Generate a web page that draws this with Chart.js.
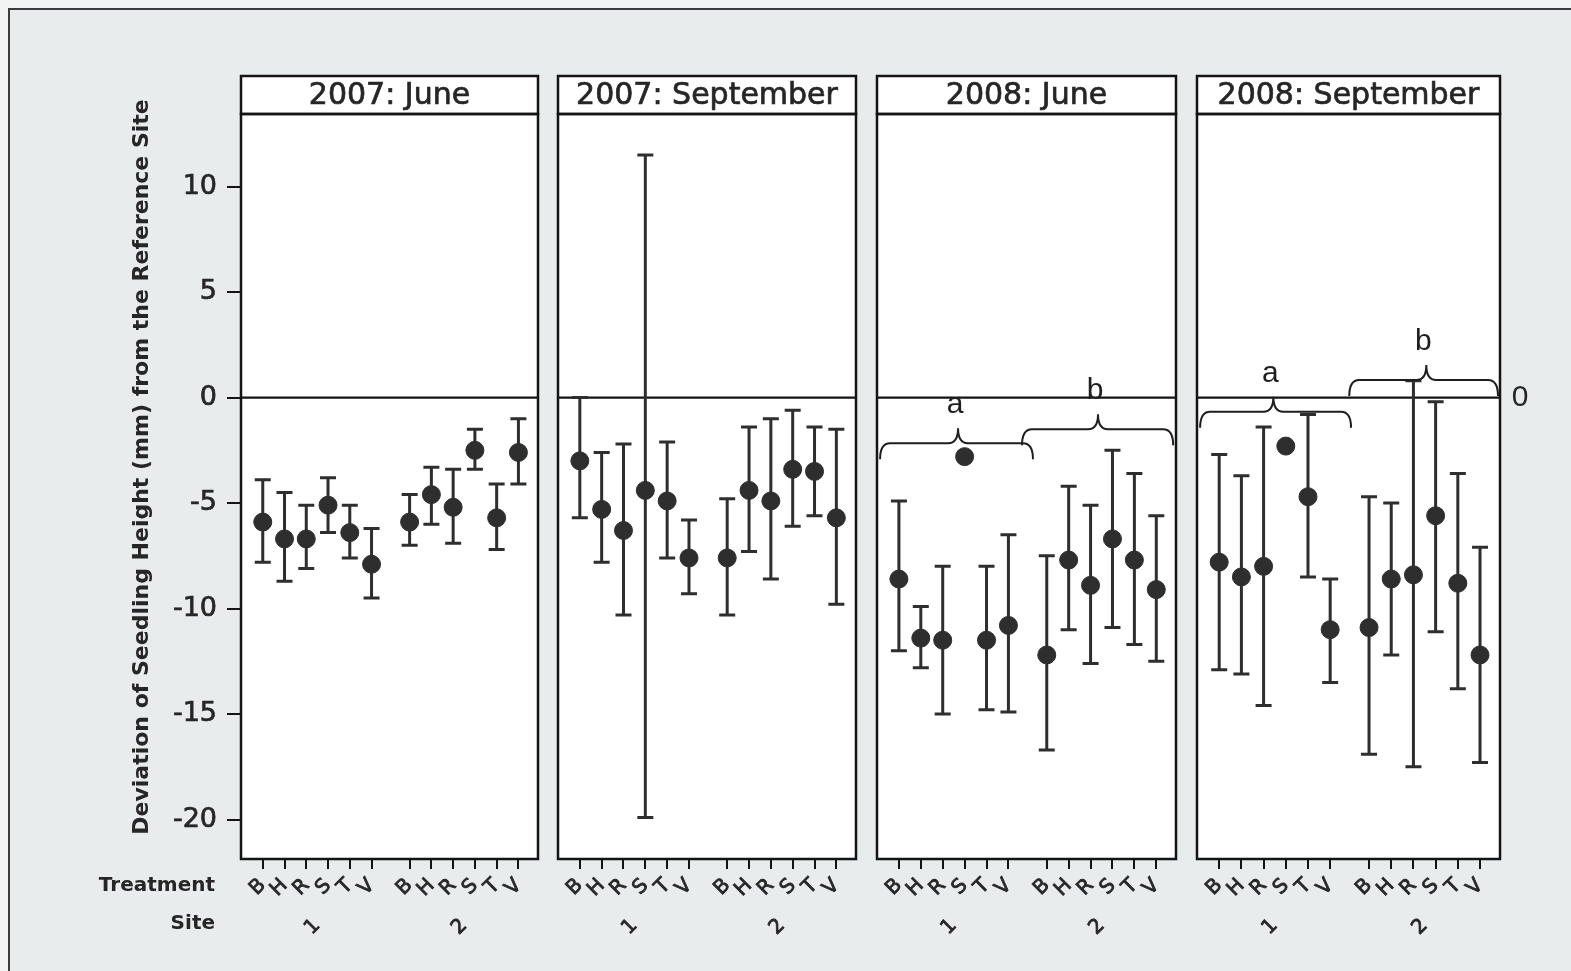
<!DOCTYPE html>
<html>
<head>
<meta charset="utf-8">
<title>Deviation of Seedling Height</title>
<script src="https://cdn.jsdelivr.net/npm/chart.js@4.4.1/dist/chart.umd.min.js"></script>
<style>
  html, body { margin: 0; padding: 0; width: 1571px; height: 971px; overflow: hidden; background: #f2f4f4; }
  #frame { position: absolute; left: 8px; top: 8px; width: 1563px; height: 963px; box-sizing: border-box;
           background: #e8ecec; border-left: 2px solid #3c3c3c; border-top: 2px solid #3c3c3c; }
  canvas { position: absolute; left: 0; top: 0; }
</style>
</head>
<body>
<div id="frame"></div>
<canvas id="c0" width="1571" height="971"></canvas>
<canvas id="c1" width="1571" height="971"></canvas>
<canvas id="c2" width="1571" height="971"></canvas>
<canvas id="c3" width="1571" height="971"></canvas>
<script>
// ---- data -------------------------------------------------------------
const treatments = ['B', 'H', 'R', 'S', 'T', 'V'];
const sites = ['1', '2'];
const periods = ['2007: June', '2007: September', '2008: June', '2008: September'];
const yTicks = [10, 5, 0, -5, -10, -15, -20];

// order: site 1 B H R S T V, then site 2 B H R S T V
const jun07Mean = [-5.9, -6.7, -6.7, -5.1, -6.4, -7.9, -5.9, -4.6, -5.2, -2.5, -5.7, -2.6];
const jun07High = [-3.9, -4.5, -5.1, -3.8, -5.1, -6.2, -4.6, -3.3, -3.4, -1.5, -4.1, -1.0];
const jun07Low  = [-7.8, -8.7, -8.1, -6.4, -7.6, -9.5, -7.0, -6.0, -6.9, -3.4, -7.2, -4.1];

const sep07Mean = [-3.0, -5.3, -6.3, -4.4, -4.9, -7.6, -7.6, -4.4, -4.9, -3.4, -3.5, -5.7];
const sep07High = [ 0.0, -2.6, -2.2, 11.5, -2.1, -5.8, -4.8, -1.4, -1.0, -0.6, -1.4, -1.5];
const sep07Low  = [-5.7, -7.8, -10.3, -19.9, -7.6, -9.3, -10.3, -7.3, -8.6, -6.1, -5.6, -9.8];

const jun08Mean = [-8.6, -11.4, -11.5, -2.8, -11.5, -10.8, -12.2, -7.7, -8.9, -6.7, -7.7, -9.1];
const jun08High = [-4.9, -9.9, -8.0, null, -8.0, -6.5, -7.5, -4.2, -5.1, -2.5, -3.6, -5.6];
const jun08Low  = [-12.0, -12.8, -15.0, null, -14.8, -14.9, -16.7, -11.0, -12.6, -10.9, -11.7, -12.5];

const sep08Mean = [-7.8, -8.5, -8.0, -2.3, -4.7, -11.0, -10.9, -8.6, -8.4, -5.6, -8.8, -12.2];
const sep08High = [-2.7, -3.7, -1.4, null, -0.8, -8.6, -4.7, -5.0, 0.8, -0.2, -3.6, -7.1];
const sep08Low  = [-12.9, -13.1, -14.6, null, -8.5, -13.5, -16.9, -12.2, -17.5, -11.1, -13.8, -17.3];

// significance groups drawn as braces: x span, tip and level in axis units
const jun08Groups = [
  { label: 'a', from: -0.86, to: 6.12, tip: 2.7, level: -2.16 },
  { label: 'b', from: 5.62, to: 12.52, tip: 9.09, level: -1.5 }
];
const sep08Groups = [
  { label: 'a', from: -0.86, to: 5.94, tip: 2.44, level: -0.67 },
  { label: 'b', from: 5.86, to: 12.56, tip: 9.33, level: 0.83 }
];

// ---- layout & style ---------------------------------------------------
const X_MIN = -1, X_MAX = 12.65, SITE_GAP = 6.75;
const Y_MIN = -21.87, Y_MAX = 13.44;
const EDGES = [[241, 538], [558, 856], [877, 1176], [1197, 1500]];
const HEAD_TOP = 76, PLOT_TOP = 114, PLOT_BOTTOM = 859;
const INK = '#2e2e2e', LINE = '#141414', TEXT = '#262626';
const FONT = '"DejaVu Sans", Verdana, sans-serif';

const xPos = i => (i % 6) + Math.floor(i / 6) * SITE_GAP;
const treatmentTicks = treatments.concat(treatments).map((_, i) => xPos(i));
const siteCentres = sites.map((_, s) => 2.5 + s * SITE_GAP);

const panels = [
  { mean: jun07Mean, high: jun07High, low: jun07Low, groups: [] },
  { mean: sep07Mean, high: sep07High, low: sep07Low, groups: [] },
  { mean: jun08Mean, high: jun08High, low: jun08Low, groups: jun08Groups },
  { mean: sep08Mean, high: sep08High, low: sep08Low, groups: sep08Groups }
];

function drawBrace(ctx, x1, x2, xm, yH) {
  const r = 10, drop = 16, rise = 15;
  ctx.beginPath();
  ctx.moveTo(x1, yH + drop);
  ctx.quadraticCurveTo(x1, yH, x1 + r, yH);
  ctx.lineTo(xm - r, yH);
  ctx.quadraticCurveTo(xm, yH, xm, yH - rise);
  ctx.quadraticCurveTo(xm, yH, xm + r, yH);
  ctx.lineTo(x2 - r, yH);
  ctx.quadraticCurveTo(x2, yH, x2, yH + drop);
  ctx.stroke();
}

function panelPlugin(k) {
  const p = panels[k];
  return {
    id: 'panel' + k,
    beforeDraw(chart) {
      const { ctx, chartArea: a } = chart;
      ctx.save();
      ctx.fillStyle = '#ffffff';
      ctx.fillRect(a.left, HEAD_TOP, a.right - a.left, a.bottom - HEAD_TOP);
      ctx.restore();
    },
    beforeDatasetsDraw(chart) {
      const { ctx, chartArea: a, scales: { x, y } } = chart;
      ctx.save();
      // reference line at zero
      ctx.strokeStyle = LINE;
      ctx.lineWidth = 2.2;
      ctx.beginPath();
      ctx.moveTo(a.left, y.getPixelForValue(0));
      ctx.lineTo(a.right, y.getPixelForValue(0));
      ctx.stroke();
      // error bars
      ctx.strokeStyle = INK;
      ctx.lineWidth = 3;
      p.mean.forEach((m, i) => {
        if (p.high[i] === null || p.low[i] === null) return;
        const px = x.getPixelForValue(xPos(i));
        const top = y.getPixelForValue(p.high[i]);
        const bot = y.getPixelForValue(p.low[i]);
        ctx.beginPath();
        ctx.moveTo(px, top); ctx.lineTo(px, bot);
        ctx.moveTo(px - 8, top); ctx.lineTo(px + 8, top);
        ctx.moveTo(px - 8, bot); ctx.lineTo(px + 8, bot);
        ctx.stroke();
      });
      ctx.restore();
    },
    afterDatasetsDraw(chart) {
      const { ctx, scales: { x, y } } = chart;
      ctx.save();
      ctx.strokeStyle = '#1e1e1e';
      ctx.lineWidth = 2;
      ctx.fillStyle = '#1e1e1e';
      ctx.font = '30px "Liberation Sans", Arial, sans-serif';
      ctx.textAlign = 'center';
      ctx.textBaseline = 'middle';
      p.groups.forEach(g => {
        const xm = x.getPixelForValue(g.tip);
        const yH = y.getPixelForValue(g.level);
        drawBrace(ctx, x.getPixelForValue(g.from), x.getPixelForValue(g.to), xm, yH);
        ctx.fillText(g.label, xm - 3, yH - 38);
      });
      ctx.restore();
    },
    afterDraw(chart) {
      const { ctx, chartArea: a, scales: { y } } = chart;
      ctx.save();
      ctx.strokeStyle = LINE;
      ctx.lineWidth = 2.5;
      ctx.strokeRect(a.left, a.top, a.right - a.left, a.bottom - a.top);
      ctx.strokeRect(a.left, HEAD_TOP, a.right - a.left, PLOT_TOP - HEAD_TOP);
      ctx.fillStyle = TEXT;
      ctx.strokeStyle = TEXT;
      ctx.lineWidth = 0.7;
      ctx.font = '30px ' + FONT;
      ctx.textAlign = 'center';
      ctx.textBaseline = 'middle';
      const hx = (a.left + a.right) / 2, hy = (HEAD_TOP + PLOT_TOP) / 2 + 1;
      ctx.fillText(periods[k], hx, hy);
      ctx.strokeText(periods[k], hx, hy);
      if (k === 0) {
        ctx.font = 'bold 22px ' + FONT;
        ctx.translate(142, 467);
        ctx.rotate(-Math.PI / 2);
        ctx.fillText('Deviation of Seedling Height (mm) from the Reference Site', 0, 0);
        ctx.setTransform(1, 0, 0, 1, 0, 0);
        ctx.font = 'bold 20px ' + FONT;
        ctx.textAlign = 'right';
        ctx.fillText('Treatment', 215, 886);
        ctx.fillText('Site', 215, 924);
      }
      if (k === panels.length - 1) {
        ctx.font = '30px "Liberation Sans", Arial, sans-serif';
        ctx.textAlign = 'center';
        ctx.fillText('0', a.right + 20, y.getPixelForValue(0));
      }
      ctx.restore();
    }
  };
}

function makeChart(k) {
  const p = panels[k];
  const first = k === 0;
  return new Chart(document.getElementById('c' + k), {
    type: 'scatter',
    data: {
      datasets: [{
        data: p.mean.map((v, i) => ({ x: xPos(i), y: v })),
        pointRadius: 9, pointHoverRadius: 9,
        backgroundColor: INK, borderColor: INK, borderWidth: 1
      }]
    },
    options: {
      responsive: false,
      animation: false,
      events: [],
      plugins: { legend: { display: false }, tooltip: { enabled: false } },
      layout: {
        padding: {
          left: first ? 100 : EDGES[k][0],
          right: 1571 - EDGES[k][1],
          top: PLOT_TOP,
          bottom: 971 - PLOT_BOTTOM - 90
        }
      },
      scales: {
        x: {
          type: 'linear', position: 'bottom', weight: 0, min: X_MIN, max: X_MAX,
          afterBuildTicks: s => { s.ticks = treatmentTicks.map(v => ({ value: v })); },
          afterFit: s => { s.height = 50; },
          ticks: {
            autoSkip: false, minRotation: 45, maxRotation: 45, padding: 5,
            color: TEXT, font: { family: FONT, size: 20 },
            textStrokeColor: TEXT, textStrokeWidth: 0.8,
            callback: (v, i) => treatments[i % 6]
          },
          grid: { display: true, drawOnChartArea: false, drawTicks: true, tickLength: 10, color: LINE, lineWidth: 2 },
          border: { display: false }
        },
        x2: {
          type: 'linear', axis: 'x', position: 'bottom', weight: 1, min: X_MIN, max: X_MAX,
          afterBuildTicks: s => { s.ticks = siteCentres.map(v => ({ value: v })); },
          afterFit: s => { s.height = 40; },
          ticks: {
            autoSkip: false, minRotation: 45, maxRotation: 45, padding: 5,
            color: TEXT, font: { family: FONT, size: 20 },
            textStrokeColor: TEXT, textStrokeWidth: 0.8,
            callback: (v, i) => sites[i]
          },
          grid: { display: false, drawTicks: false },
          border: { display: false }
        },
        y: {
          type: 'linear', position: 'left', display: first, min: Y_MIN, max: Y_MAX,
          afterBuildTicks: s => { s.ticks = yTicks.map(v => ({ value: v })); },
          afterFit: s => { s.width = first ? 141 : 0; },
          ticks: { color: TEXT, font: { family: FONT, size: 27 }, padding: 10,
                   textStrokeColor: TEXT, textStrokeWidth: 0.7 },
          grid: { drawOnChartArea: false, tickLength: 14, color: LINE, lineWidth: 2 },
          border: { display: false }
        }
      }
    },
    plugins: [panelPlugin(k)]
  });
}

panels.forEach((_, k) => makeChart(k));
</script>
</body>
</html>
